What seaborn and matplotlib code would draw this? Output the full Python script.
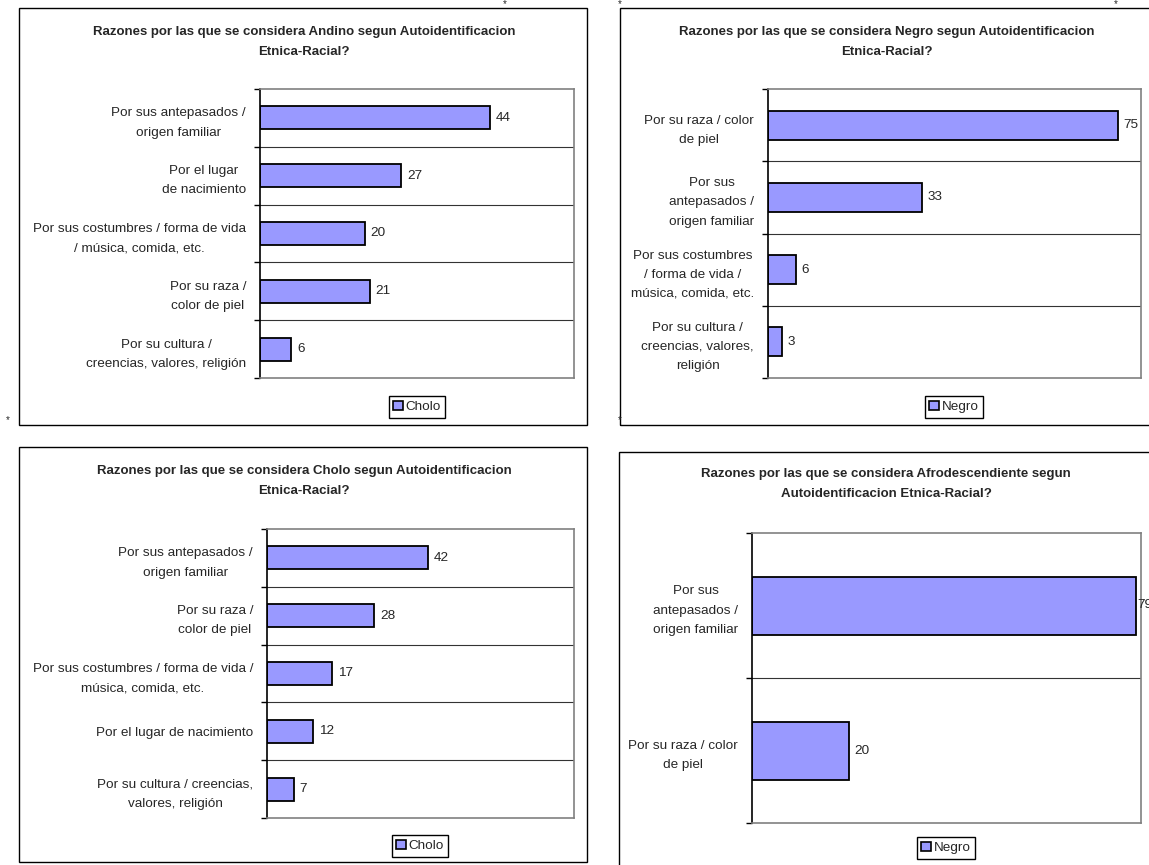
import pandas as pd
import seaborn as sns
import matplotlib.pyplot as plt
from matplotlib.patches import Rectangle, Patch

# Datos de cada panel
andino_cats = ['Por sus antepasados /\norigen familiar', 'Por el lugar\nde nacimiento',
               'Por sus costumbres / forma de vida\n/ música, comida, etc.',
               'Por su raza /\ncolor de piel', 'Por su cultura /\ncreencias, valores, religión']
andino_vals = [44, 27, 20, 21, 6]

negro_cats = ['Por su raza / color\nde piel', 'Por sus\nantepasados /\norigen familiar',
              'Por sus costumbres\n/ forma de vida /\nmúsica, comida, etc.',
              'Por su cultura /\ncreencias, valores,\nreligión']
negro_vals = [75, 33, 6, 3]

cholo_cats = ['Por sus antepasados /\norigen familiar', 'Por su raza /\ncolor de piel',
              'Por sus costumbres / forma de vida /\nmúsica, comida, etc.',
              'Por el lugar de nacimiento', 'Por su cultura / creencias,\nvalores, religión']
cholo_vals = [42, 28, 17, 12, 7]

afro_cats = ['Por sus\nantepasados /\norigen familiar', 'Por su raza / color\nde piel']
afro_vals = [79, 20]

titulos = ['Razones por las que se considera Andino segun Autoidentificacion\nEtnica-Racial?',
           'Razones por las que se considera Negro segun Autoidentificacion\nEtnica-Racial?',
           'Razones por las que se considera Cholo segun Autoidentificacion\nEtnica-Racial?',
           'Razones por las que se considera Afrodescendiente segun\nAutoidentificacion Etnica-Racial?']
series = ['Cholo', 'Negro', 'Cholo', 'Negro']

sns.set_style('white')
plt.rcParams['font.family'] = ['Liberation Sans', 'DejaVu Sans']

W, H = 1149, 865
fig = plt.figure(figsize=(W / 100, H / 100), dpi=100)

def px_axes(l, t, r, b):
    return fig.add_axes([l / W, 1 - b / H, (r - l) / W, (b - t) / H])

# (cats, vals, xmax, axes px, panel border px, title pos, legend pos)
paneles = [
    (andino_cats, andino_vals, 60, (260, 89, 574, 378), (19, 8, 587, 425), (304, 42), (417, 407)),
    (negro_cats, negro_vals, 80, (768, 89, 1141, 378), (620, 8, 1156, 425), (887, 42), (954, 407)),
    (cholo_cats, cholo_vals, 80, (267, 529, 574, 818), (19, 447, 587, 862), (304, 481), (420, 846)),
    (afro_cats, afro_vals, 80, (752, 533, 1141, 823), (619, 452, 1156, 868), (886, 484), (946, 848)),
]

color_barra = '#9999FF'

for i, (cats, vals, xmax, apx, bpx, tpos, lpos) in enumerate(paneles):
    # Borde del panel
    l, t, r, b = bpx
    fig.patches.append(Rectangle((l / W, 1 - b / H), (r - l) / W, (b - t) / H,
                                 transform=fig.transFigure, fill=False,
                                 edgecolor='black', linewidth=1.0))

    ax = px_axes(*apx)
    df = pd.DataFrame({'razon': cats, 'valor': vals})
    sns.barplot(data=df, x='valor', y='razon', orient='h', color=color_barra,
                saturation=1, edgecolor='black', linewidth=1.3, width=0.4,
                errorbar=None, ax=ax)
    n = len(cats)
    ax.set_xlim(0, xmax)
    ax.set_ylim(n - 0.5, -0.5)
    ax.set_xlabel('')
    ax.set_ylabel('')
    ax.set_xticks([])

    # Lineas entre categorias
    limites = [k + 0.5 for k in range(-1, n)]
    ax.set_yticks(limites, minor=True)
    for k in range(n - 1):
        ax.axhline(k + 0.5, color='#333333', linewidth=0.8, zorder=0)
    ax.tick_params(axis='y', which='minor', length=4, width=1, color='black', left=True)
    ax.tick_params(axis='y', which='major', length=0, pad=10, labelsize=9.7)
    for lab in ax.get_yticklabels():
        lab.set_multialignment('center')
        lab.set_linespacing(1.8)

    for s in ['top', 'right', 'bottom']:
        ax.spines[s].set_color('#808080')
        ax.spines[s].set_linewidth(1.2)
    ax.spines['left'].set_color('black')
    ax.spines['left'].set_linewidth(1.2)

    etiquetas = ax.bar_label(ax.containers[0], padding=4, fontsize=9.7)
    # la etiqueta que toca el borde derecho queda pegada a la barra (como en el original)
    for et, v in zip(etiquetas, vals):
        if v > 0.95 * xmax:
            et.xyann = (1, 0)

    # Titulo
    fig.text(tpos[0] / W, 1 - tpos[1] / H, titulos[i], ha='center', va='center',
             fontsize=9.5, fontweight='bold', linespacing=1.9)

    # Leyenda
    handle = Patch(facecolor=color_barra, edgecolor='black', linewidth=1.2)
    fig.legend(handles=[handle], labels=[series[i]], loc='center',
               bbox_to_anchor=(lpos[0] / W, 1 - lpos[1] / H), fontsize=9.7,
               frameon=True, fancybox=False, edgecolor='black', framealpha=1,
               handlelength=0.7, handleheight=0.7, handletextpad=0.2,
               borderpad=0.35, borderaxespad=0)

# Pequeños asteriscos del original
for x, y in [(8, 420), (505, 4), (620, 4), (1116, 4), (620, 420)]:
    fig.text(x / W, 1 - y / H, '*', ha='center', va='center', fontsize=7)

plt.savefig('out.png', dpi=100)
